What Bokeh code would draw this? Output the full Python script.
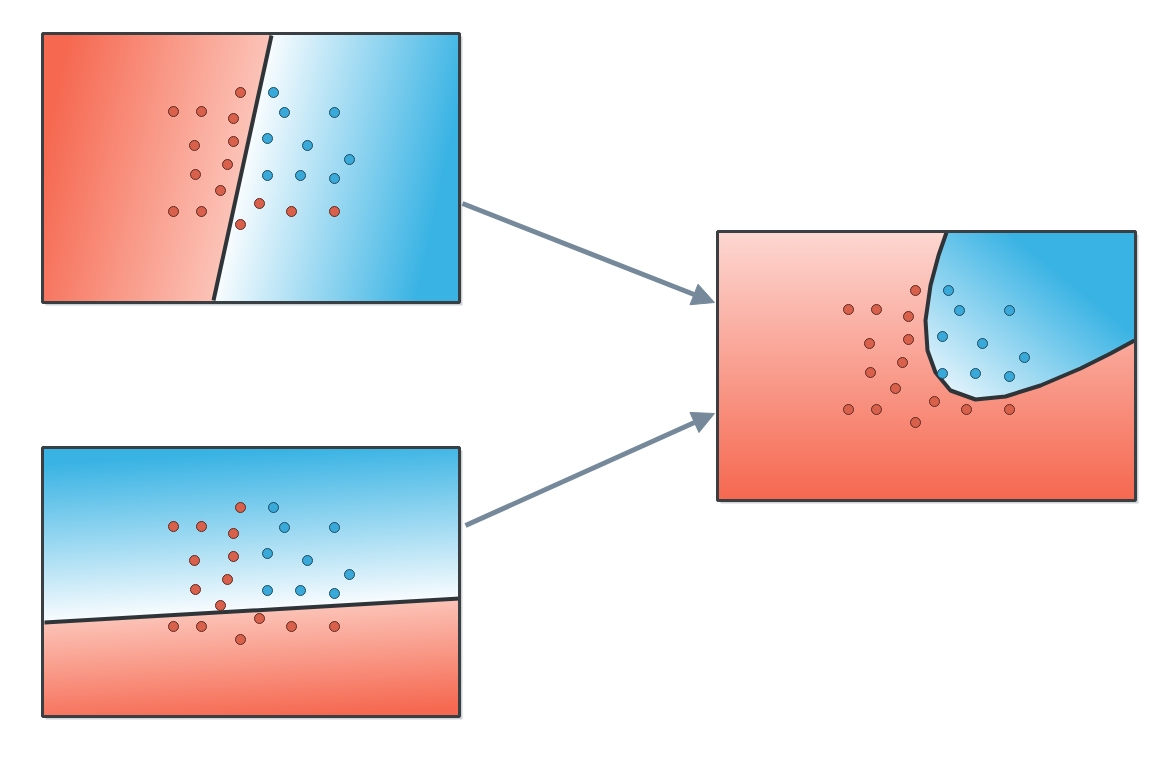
import numpy as np
from bokeh.plotting import figure
from bokeh.models import Arrow, NormalHead
from bokeh.embed import file_html
from bokeh.resources import INLINE

# dot pattern (panel 1 screen coords), reused in every panel with an offset
red_x = [173, 201, 240, 233, 194, 233, 227, 195, 220, 173, 201, 259, 291, 334, 240]
red_y = [111, 111, 92, 118, 145, 141, 164, 174, 190, 211, 211, 203, 211, 211, 224]
blue_x = [273, 284, 334, 267, 307, 349, 267, 300, 334]
blue_y = [92, 112, 112, 138, 145, 159, 175, 175, 178]
offsets = [(0, 0), (0, 415), (675, 198)]

# panel boxes: x0, y0, x1, y1
panels = [(42, 33, 459, 302), (42, 447, 459, 716), (717, 231, 1135, 500)]
line1 = [(271, 35), (213, 300)]
line2 = [(44, 622), (459, 598)]
curve_x = [946, 938, 930, 925, 927, 935, 950, 975, 1005, 1040, 1080, 1110, 1134]
curve_y = [232, 255, 285, 320, 350, 372, 390, 399, 396, 385, 368, 353, 340]

RED = np.array([246, 104, 80]); PINK = np.array([252, 196, 184])
LPINK = np.array([253, 216, 210]); BLUE = np.array([56, 179, 228]); WHITE = np.array([250, 253, 255])


def mix(a, b, t):
    t = np.clip(t, 0, 1)[..., None]
    return a * (1 - t) + b * t


def grid(b):
    x0, y0, x1, y1 = b
    X, Y = np.meshgrid(np.arange(x0, x1) + 0.5, np.arange(y0, y1) + 0.5)
    return X, Y


def to_rgba(c):
    c = np.clip(c, 0, 255).astype(np.uint32)
    return (255 << 24) | (c[..., 2] << 16) | (c[..., 1] << 8) | c[..., 0]


def side(X, Y, ln):
    (ax, ay), (bx, by) = ln
    L = np.hypot(bx - ax, by - ay)
    return ((bx - ax) * (Y - ay) - (by - ay) * (X - ax)) / L


def inside(X, Y, px, py):
    res = np.zeros(X.shape, bool)
    n = len(px)
    for i in range(n):
        xa, ya, xb, yb = px[i], py[i], px[(i + 1) % n], py[(i + 1) % n]
        cond = (ya > Y) != (yb > Y)
        xint = xa + (Y - ya) * (xb - xa) / (yb - ya + 1e-9)
        res ^= cond & (X < xint)
    return res


imgs = []
# panel 1
X, Y = grid(panels[0])
d = side(X, Y, line1)
c = np.where((d > 0)[..., None], mix(PINK, RED, d / 200), mix(WHITE, BLUE, -d / 200))
imgs.append(to_rgba(c))
# panel 2
X, Y = grid(panels[1])
d = side(X, Y, line2)
c = np.where((d < 0)[..., None], mix(WHITE, BLUE, -d / 160), mix(PINK, RED, d / 110))
imgs.append(to_rgba(c))
# panel 3
X, Y = grid(panels[2])
bg = mix(LPINK, RED, (Y - 231) / 269)
inb = inside(X, Y, curve_x + [1136], curve_y + [230])
tb = ((X - 925) / 210 + (400 - Y) / 170) / 1.4
c = np.where(inb[..., None], mix(WHITE, BLUE, tb), bg)
imgs.append(to_rgba(c))

p = figure(width=1143, height=741, x_range=(0, 1143), y_range=(741, 0),
           output_backend="svg", toolbar_location=None, min_border=0)
p.axis.visible = False
p.grid.visible = False
p.outline_line_color = None
p.background_fill_color = "white"

for b, img in zip(panels, imgs):
    x0, y0, x1, y1 = b
    p.quad(left=x0 + 3, right=x1 + 3, top=y0 + 3, bottom=y1 + 3, fill_color="#cfd3d6", line_color=None)
    p.image_rgba(image=[img], x=x0, y=y0, dw=x1 - x0, dh=y1 - y0)

p.line([q[0] for q in line1], [q[1] for q in line1], line_width=4, color="#2f3438")
p.line([q[0] for q in line2], [q[1] for q in line2], line_width=4, color="#2f3438")
p.line(curve_x, curve_y, line_width=4, color="#2f3438")

for b in panels:
    x0, y0, x1, y1 = b
    p.quad(left=x0, right=x1, top=y0, bottom=y1, fill_color=None, line_color="#3a3f44", line_width=3)

for dx, dy in offsets:
    p.scatter([x + dx for x in red_x], [y + dy for y in red_y], size=10,
              fill_color="#d9614b", line_color="#5a2a22", line_width=1)
    p.scatter([x + dx for x in blue_x], [y + dy for y in blue_y], size=10,
              fill_color="#38a9d9", line_color="#1d4a5e", line_width=1)

for sx, sy, ex, ey in [(462, 203, 714, 302), (465, 525, 714, 413)]:
    p.add_layout(Arrow(end=NormalHead(size=22, fill_color="#75899a", line_color="#75899a"),
                       x_start=sx, y_start=sy, x_end=ex, y_end=ey,
                       line_color="#75899a", line_width=5))

open("out.html", "w").write(file_html(p, INLINE))
